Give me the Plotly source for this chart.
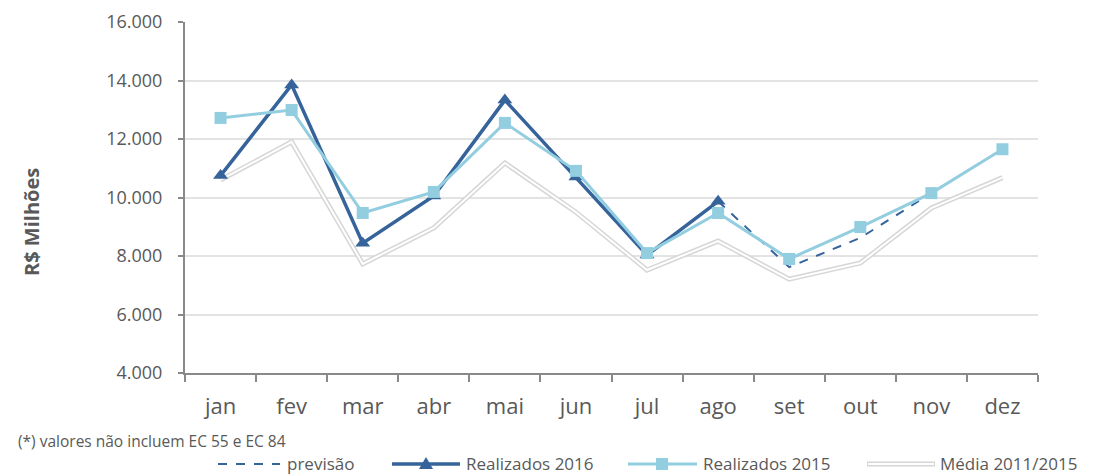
import plotly.graph_objects as go

months = ["jan", "fev", "mar", "abr", "mai", "jun", "jul", "ago", "set", "out", "nov", "dez"]
realizados_2016 = [10750, 13850, 8440, 10050, 13330, 10700, 8030, 9870, None, None, None, None]
previsao_months = ["ago", "set", "out", "nov"]
previsao = [9870, 7620, 8620, 10150]
realizados_2015 = [12720, 12990, 9470, 10190, 12550, 10910, 8100, 9470, 7900, 8990, 10150, 11650]
media_2011_2015 = [10600, 11900, 7730, 8960, 11180, 9500, 7520, 8510, 7210, 7760, 9640, 10680]
y_ticks = [4000, 6000, 8000, 10000, 12000, 14000, 16000]
y_tick_labels = ["4.000", "6.000", "8.000", "10.000", "12.000", "14.000", "16.000"]

DARK = "#35639a"
LIGHT = "#92cde0"
GRAYL = "#d6d6d6"
TXT = "#595959"
FONT = "Open Sans"

OFF = 8  # page body margin
W, H = 1093 - OFF, 475 - OFF
L, R, T, B = 185 - OFF, 1038 - OFF, 22 - OFF, 373 - OFF

fig = go.Figure()
fig.add_trace(go.Scatter(x=months, y=media_2011_2015, mode="lines",
                         line=dict(color=GRAYL, width=5), showlegend=False, hoverinfo="skip"))
fig.add_trace(go.Scatter(x=months, y=media_2011_2015, mode="lines",
                         line=dict(color="white", width=2), showlegend=False, name="Média 2011/2015"))
fig.add_trace(go.Scatter(x=previsao_months, y=previsao, mode="lines",
                         line=dict(color=DARK, width=2, dash="dash"), showlegend=False, name="previsão"))
fig.add_trace(go.Scatter(x=months, y=realizados_2016, mode="lines+markers",
                         line=dict(color=DARK, width=3.5),
                         marker=dict(symbol="triangle-up", size=13, color=DARK),
                         showlegend=False, name="Realizados 2016"))
fig.add_trace(go.Scatter(x=months, y=realizados_2015, mode="lines+markers",
                         line=dict(color=LIGHT, width=3),
                         marker=dict(symbol="square", size=12, color=LIGHT),
                         showlegend=False, name="Realizados 2015"))


def px(x):
    return (x - OFF - L) / (R - L)


def py(y):
    return (B - (y - OFF)) / (B - T)


shapes = []
annotations = []
ly = 464
tly = 463
LEG = 17

shapes.append(dict(type="line", xref="paper", yref="paper", x0=px(218), x1=px(280), y0=py(ly), y1=py(ly),
                   line=dict(color=DARK, width=2, dash="dash")))
annotations.append(dict(x=px(285), y=py(tly), xref="paper", yref="paper", text="previsão", showarrow=False,
                        xanchor="left", yanchor="middle", font=dict(family=FONT, size=LEG, color=TXT)))
shapes.append(dict(type="line", xref="paper", yref="paper", x0=px(392), x1=px(460), y0=py(ly), y1=py(ly),
                   line=dict(color=DARK, width=3.5)))
cx = 426
shapes.append(dict(type="path", xref="paper", yref="paper",
                   path=f"M {px(cx-7)} {py(ly+5)} L {px(cx+7)} {py(ly+5)} L {px(cx)} {py(ly-7)} Z",
                   fillcolor=DARK, line=dict(color=DARK, width=0)))
annotations.append(dict(x=px(464), y=py(tly), xref="paper", yref="paper", text="Realizados 2016", showarrow=False,
                        xanchor="left", yanchor="middle", font=dict(family=FONT, size=LEG, color=TXT)))
shapes.append(dict(type="line", xref="paper", yref="paper", x0=px(628), x1=px(697), y0=py(ly), y1=py(ly),
                   line=dict(color=LIGHT, width=3)))
cx = 662
shapes.append(dict(type="rect", xref="paper", yref="paper", x0=px(cx-6), x1=px(cx+6), y0=py(ly+6), y1=py(ly-6),
                   fillcolor=LIGHT, line=dict(color=LIGHT, width=0)))
annotations.append(dict(x=px(701), y=py(tly), xref="paper", yref="paper", text="Realizados 2015", showarrow=False,
                        xanchor="left", yanchor="middle", font=dict(family=FONT, size=LEG, color=TXT)))
shapes.append(dict(type="line", xref="paper", yref="paper", x0=px(867), x1=px(935), y0=py(ly), y1=py(ly),
                   line=dict(color=GRAYL, width=5)))
shapes.append(dict(type="line", xref="paper", yref="paper", x0=px(868), x1=px(934), y0=py(ly), y1=py(ly),
                   line=dict(color="white", width=2)))
annotations.append(dict(x=px(938), y=py(tly), xref="paper", yref="paper", text="Média 2011/2015", showarrow=False,
                        xanchor="left", yanchor="middle", font=dict(family=FONT, size=LEG, color=TXT)))
annotations.append(dict(x=px(16), y=py(441), xref="paper", yref="paper",
                        text="(*) valores não incluem EC 55 e EC 84", showarrow=False,
                        xanchor="left", yanchor="middle", font=dict(family=FONT, size=15.5, color=TXT)))
annotations.append(dict(x=px(31), y=py(222), xref="paper", yref="paper",
                        text="<b>R$ Milhões</b>", showarrow=False, textangle=-90,
                        xanchor="center", yanchor="middle", font=dict(family=FONT, size=20, color=TXT)))

fig.update_layout(
    width=W, height=H,
    margin=dict(l=L, r=W - R, t=T, b=H - B, pad=0, autoexpand=False),
    plot_bgcolor="white", paper_bgcolor="white",
    showlegend=False,
    shapes=shapes, annotations=annotations,
    xaxis=dict(type="category", categoryorder="array", categoryarray=months, range=[-0.5, 11.5],
               tickson="boundaries", ticks="outside", ticklen=7, tickcolor="#898989", tickwidth=2,
               showline=True, linecolor="#898989", linewidth=2, showgrid=False, automargin=False,
               tickfont=dict(family=FONT, size=22, color=TXT), ticklabelstandoff=13),
    yaxis=dict(range=[4000, 16000], tickvals=y_ticks, ticktext=y_tick_labels,
               ticks="outside", ticklen=5, tickcolor="#898989", tickwidth=2,
               showline=True, linecolor="#898989", linewidth=2, automargin=False,
               showgrid=True, gridcolor="#e3e3e3", gridwidth=2, zeroline=False,
               tickfont=dict(family=FONT, size=18, color=TXT), ticklabelstandoff=12),
)

fig.write_html("out.html")
